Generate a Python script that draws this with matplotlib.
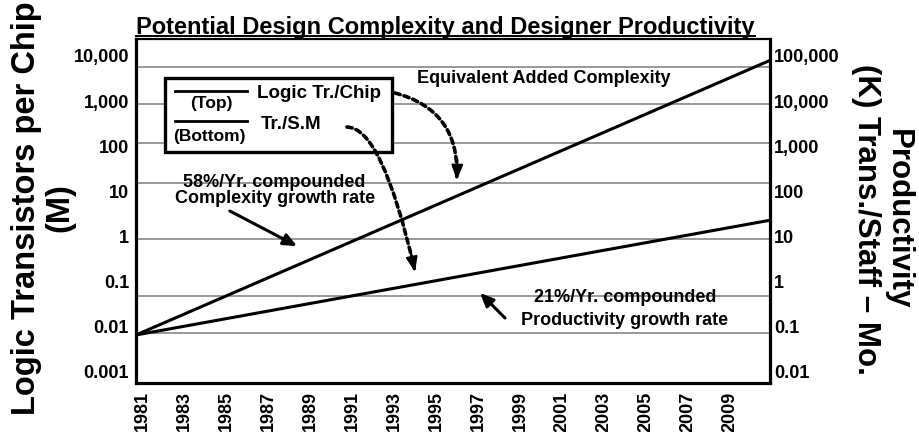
import matplotlib
matplotlib.use('Agg')
import matplotlib.pyplot as plt
from matplotlib.patches import Rectangle
from matplotlib.lines import Line2D
from matplotlib.ticker import FixedLocator, NullLocator

plt.rcParams['font.family'] = ['Liberation Sans', 'DejaVu Sans']
plt.rcParams['font.weight'] = 'bold'

# values
years = [1980.7, 2010.9]
logic_tr_chip = [0.0066, 8000]      # M transistors / chip (left axis)
tr_per_sm = [0.066, 23]             # K transistors / staff-month (right axis)
grid_levels = [5700, 865, 118, 15.4, 0.88, 0.048, 0.0073]

year_ticks = list(range(1981, 2010, 2))
left_ticks = [0.001, 0.01, 0.1, 1, 10, 100, 1000, 10000]
left_labels = ['0.001', '0.01', '0.1', '1', '10', '100', '1,000', '10,000']
right_ticks = [0.01, 0.1, 1, 10, 100, 1000, 10000, 100000]
right_labels = ['0.01', '0.1', '1', '10', '100', '1,000', '10,000', '100,000']

fig = plt.figure(figsize=(9.2, 4.32), dpi=100)
ax = fig.add_axes([136 / 920, 1 - 383 / 432, 634 / 920, 344 / 432])
ax.set_yscale('log')
ax.set_xlim(years[0], years[1])
ax.set_ylim(0.00057, 23800)

for g in grid_levels:
    ax.axhline(g, color='0.6', lw=1.4, zorder=1)

ax.plot(years, logic_tr_chip, color='black', lw=2.2, zorder=3)

ax.yaxis.set_major_locator(FixedLocator(left_ticks))
ax.yaxis.set_minor_locator(NullLocator())
ax.set_yticklabels(left_labels)
ax.set_xticks(year_ticks)
ax.set_xticklabels([str(y) for y in year_ticks], rotation=90)
ax.tick_params(axis='y', length=0, pad=5, labelsize=13)
ax.tick_params(axis='x', length=0, pad=6, labelsize=13)

for side in ['left', 'bottom', 'right']:
    ax.spines[side].set_linewidth(2.3)
ax.spines['top'].set_linewidth(1.6)

ax2 = ax.twinx()
ax2.set_yscale('log')
ax2.set_ylim(0.0057, 238000)
ax2.plot(years, tr_per_sm, color='black', lw=2.2, zorder=3)
ax2.yaxis.set_major_locator(FixedLocator(right_ticks))
ax2.yaxis.set_minor_locator(NullLocator())
ax2.set_yticklabels(right_labels)
ax2.tick_params(axis='y', length=0, pad=3, labelsize=13)
for side in ['left', 'bottom', 'right', 'top']:
    ax2.spines[side].set_visible(False)

# legend box
tr = ax.transAxes
ax.add_patch(Rectangle((0.0457, 0.6715), 0.358, 0.215, transform=tr,
                       facecolor='white', edgecolor='black', lw=2.4, zorder=4))
ax.plot([0.0615, 0.1751], [0.849, 0.849], transform=tr, color='black', lw=2, zorder=5)
ax.plot([0.0615, 0.1751], [0.7616, 0.7616], transform=tr, color='black', lw=2, zorder=5)
ax.text(0.119, 0.812, '(Top)', transform=tr, ha='center', va='center', fontsize=12.5, zorder=5)
ax.text(0.115, 0.718, '(Bottom)', transform=tr, ha='center', va='center', fontsize=12.5, zorder=5)
ax.text(0.191, 0.843, 'Logic Tr./Chip', transform=tr, ha='left', va='center', fontsize=13.5, zorder=5)
ax.text(0.197, 0.752, 'Tr./S.M', transform=tr, ha='left', va='center', fontsize=13.5, zorder=5)

# dashed pointers from the legend to the lines (dashed shaft + solid head)
dash = dict(arrowstyle='-', color='black', lw=2.6, linestyle=(0, (1.5, 1.1)),
            shrinkA=0, shrinkB=0)
head = dict(arrowstyle='-|>,head_length=0.9,head_width=0.35', color='black',
            lw=1.5, shrinkA=0, shrinkB=0)
ax.annotate('', xy=(0.506, 0.60), xytext=(0.4085, 0.843), xycoords=tr, textcoords=tr,
            arrowprops=dict(dash, connectionstyle='arc3,rad=-0.4'), zorder=6)
ax.annotate('', xy=(0.506, 0.59), xytext=(0.507, 0.65), xycoords=tr, textcoords=tr,
            arrowprops=head, zorder=6)
ax.annotate('', xy=(0.439, 0.333), xytext=(0.3328, 0.744), xycoords=tr, textcoords=tr,
            arrowprops=dict(dash, connectionstyle='angle3,angleA=0,angleB=-77'), zorder=6)
ax.annotate('', xy=(0.44, 0.3227), xytext=(0.433, 0.383), xycoords=tr, textcoords=tr,
            arrowprops=head, zorder=6)

# growth-rate notes
ax.text(0.6435, 0.886, 'Equivalent Added Complexity', transform=tr, ha='center',
        va='center', fontsize=13)
ax.text(0.218, 0.584, '58%/Yr. compounded', transform=tr, ha='center', va='center', fontsize=13)
ax.text(0.219, 0.535, 'Complexity growth rate', transform=tr, ha='center', va='center', fontsize=13)
ax.annotate('', xy=(0.254, 0.398), xytext=(0.148, 0.50), xycoords=tr, textcoords=tr,
            arrowprops=dict(arrowstyle='-|>,head_length=0.8,head_width=0.35',
                            color='black', lw=2.2, shrinkA=0, shrinkB=0))
ax.text(0.771, 0.25, '21%/Yr. compounded', transform=tr, ha='center', va='center', fontsize=13)
ax.text(0.771, 0.183, 'Productivity growth rate', transform=tr, ha='center', va='center', fontsize=13)
ax.annotate('', xy=(0.5426, 0.262), xytext=(0.582, 0.189), xycoords=tr, textcoords=tr,
            arrowprops=dict(arrowstyle='-|>,head_length=0.8,head_width=0.35',
                            color='black', lw=2.2, shrinkA=0, shrinkB=0))

# axis titles
fig.text(43.5 / 920, 1 - 208 / 432, 'Logic Transistors per Chip\n(M)', rotation=90,
         ha='center', va='center', multialignment='center', fontsize=23.5, linespacing=1.1)
fig.text(882 / 920, 1 - 219 / 432, 'Productivity\n(K) Trans./Staff \u2013 Mo.', rotation=270,
         ha='center', va='center', multialignment='center', fontsize=22.5, linespacing=1.05)

# underlined title (underline sits just under the baseline, above the top spine)
title_base = 1.0145
title = ax.text(0.0, title_base, 'Potential Design Complexity and Designer Productivity',
                transform=tr, ha='left', va='baseline', fontsize=17)
fig.canvas.draw()
bb = title.get_window_extent()
W, H = fig.bbox.width, fig.bbox.height
base_px = ax.transAxes.transform((0, title_base))[1]
uy = (base_px - 2.0) / H
fig.add_artist(Line2D([bb.x0 / W, bb.x1 / W], [uy, uy], transform=fig.transFigure,
                      color='black', lw=1.4))

fig.savefig('out.png', dpi=100)
